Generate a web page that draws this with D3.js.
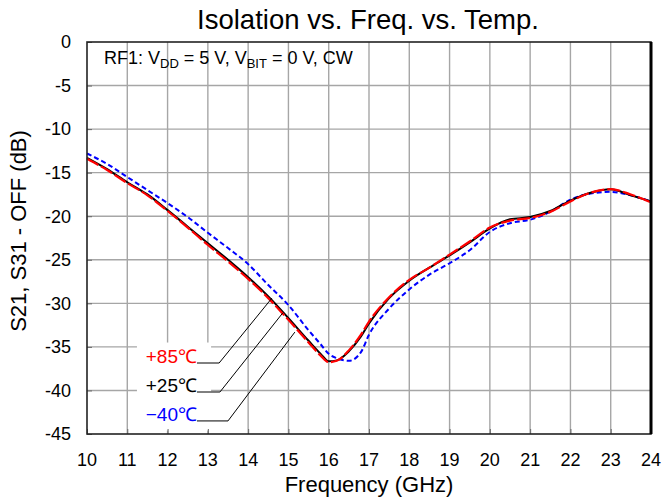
<!DOCTYPE html>
<html>
<head>
<meta charset="utf-8">
<script src="https://cdn.jsdelivr.net/npm/d3@7"></script>
<style>
body { margin: 0; background: #fff; }
text { font-family: "Liberation Sans", Arial, Helvetica, sans-serif; }
</style>
</head>
<body>
<div id="chart"></div>
<script>
var width = 664,
	height = 499,
	left = 87,
	right = 651,
	top_ = 42,
	bottom = 434;

// frequency grid (GHz)
var freq = [10, 10.5, 11, 11.5, 12, 12.5, 13, 13.5, 14, 14.5, 15, 15.5, 15.8, 16, 16.2, 16.5, 16.8, 17, 17.5, 18, 18.5, 19, 19.5, 20, 20.5, 21, 21.5, 22, 22.5, 23, 23.5, 24];

// isolation (dB) per temperature
var iso85 = [-13.4, -14.7, -16.2, -17.6, -19.4, -21.3, -23.3, -25.2, -27.2, -29.4, -31.9, -34.5, -36.0, -36.75, -36.6, -35.4, -33.6, -32.1, -29.3, -27.3, -25.9, -24.4, -22.9, -21.3, -20.5, -20.2, -19.5, -18.3, -17.3, -16.9, -17.5, -18.4];
var iso25 = [-13.3, -14.6, -16.1, -17.5, -19.3, -21.2, -23.1, -25.0, -27.0, -29.2, -31.7, -34.3, -35.8, -36.65, -36.55, -35.5, -33.8, -32.3, -29.4, -27.4, -25.9, -24.5, -23.0, -21.4, -20.35, -20.1, -19.4, -18.2, -17.3, -16.9, -17.6, -18.3];
var isoM40 = [-12.8, -14.0, -15.5, -17.0, -18.5, -20.1, -21.9, -23.65, -25.5, -27.9, -30.2, -33.1, -34.7, -35.8, -36.3, -36.6, -35.6, -33.6, -30.6, -28.4, -26.7, -25.4, -23.9, -21.8, -20.8, -20.4, -19.5, -18.1, -17.4, -17.2, -17.6, -18.3];

var xTicks = [10, 11, 12, 13, 14, 15, 16, 17, 18, 19, 20, 21, 22, 23, 24];
var yTicks = [0, -5, -10, -15, -20, -25, -30, -35, -40, -45];

// callout labels: text, colour, label end, elbow, tip (GHz, dB)
var labelText = ["+85\u2103", "+25\u2103", "\u221240\u2103"];
var labelColor = ["#ff0000", "#000000", "#0000ff"];
var labelStart = [[12.73, -36.85], [12.73, -40.18], [12.73, -43.5]];
var labelElbow = [[13.28, -36.85], [13.30, -40.18], [13.50, -43.5]];
var labelTip = [[14.59, -29.4], [14.86, -31.1], [15.16, -33.3]];

var x = d3.scaleLinear().domain([10, 24]).range([left, right]);
var y = d3.scaleLinear().domain([0, -45]).range([top_, bottom]);

var svg = d3.select("#chart").append("svg")
	.attr("width", width)
	.attr("height", height);

// grid
svg.append("g")
	.selectAll("line")
	.data(xTicks.slice(1, -1))
	.enter()
	.append("line")
	.attr("x1", function(d) { return x(d); })
	.attr("x2", function(d) { return x(d); })
	.attr("y1", top_)
	.attr("y2", bottom)
	.attr("stroke", "#a6a6a6")
	.attr("stroke-width", 1.4);

svg.append("g")
	.selectAll("line")
	.data(yTicks.slice(1, -1))
	.enter()
	.append("line")
	.attr("x1", left)
	.attr("x2", right)
	.attr("y1", function(d) { return y(d); })
	.attr("y2", function(d) { return y(d); })
	.attr("stroke", "#a6a6a6")
	.attr("stroke-width", 1.4);

// white box behind the callout labels
svg.append("rect")
	.attr("x", x(11.24))
	.attr("y", y(-34.5))
	.attr("width", x(13.08) - x(11.24))
	.attr("height", y(-44.6) - y(-34.5))
	.attr("fill", "#fff");

// inner ticks
var xAxis = d3.axisTop(x).tickValues(xTicks).tickSize(5).tickFormat("");
svg.append("g")
	.attr("transform", "translate(0," + bottom + ")")
	.call(xAxis)
	.call(function(g) { g.select(".domain").remove(); })
	.selectAll("line").attr("stroke", "#666");

var yAxis = d3.axisRight(y).tickValues(yTicks).tickSize(5).tickFormat("");
svg.append("g")
	.attr("transform", "translate(" + left + ",0)")
	.call(yAxis)
	.call(function(g) { g.select(".domain").remove(); })
	.selectAll("line").attr("stroke", "#666");

// tick labels
svg.append("g")
	.selectAll("text")
	.data(xTicks)
	.enter()
	.append("text")
	.attr("x", function(d) { return x(d); })
	.attr("y", 466)
	.attr("text-anchor", "middle")
	.attr("font-size", 18)
	.text(function(d) { return d; });

svg.append("g")
	.selectAll("text")
	.data(yTicks)
	.enter()
	.append("text")
	.attr("x", 71)
	.attr("y", function(d) { return y(d); })
	.attr("dy", "0.35em")
	.attr("text-anchor", "end")
	.attr("font-size", 18)
	.text(function(d) { return d; });

// curves
var line = d3.line()
	.x(function(d) { return x(d[0]); })
	.y(function(d) { return y(d[1]); })
	.curve(d3.curveMonotoneX);

svg.append("path")
	.datum(d3.zip(freq, isoM40))
	.attr("d", line)
	.attr("fill", "none")
	.attr("stroke", "#0000ff")
	.attr("stroke-width", 2)
	.attr("stroke-dasharray", "5,3");

svg.append("path")
	.datum(d3.zip(freq, iso25))
	.attr("d", line)
	.attr("fill", "none")
	.attr("stroke", "#000")
	.attr("stroke-width", 2);

svg.append("path")
	.datum(d3.zip(freq, iso85))
	.attr("d", line)
	.attr("fill", "none")
	.attr("stroke", "#ff0000")
	.attr("stroke-width", 2.2)
	.attr("stroke-dasharray", "13,3");

// frame
svg.append("rect")
	.attr("x", left)
	.attr("y", top_)
	.attr("width", right - left)
	.attr("height", bottom - top_)
	.attr("fill", "none")
	.attr("stroke", "#222")
	.attr("stroke-width", 1.6);

svg.append("line")
	.attr("x1", right)
	.attr("x2", right)
	.attr("y1", top_)
	.attr("y2", bottom)
	.attr("stroke", "#000")
	.attr("stroke-width", 3);

// callouts
labelText.forEach(function(t, i) {
	svg.append("polyline")
		.attr("points", [labelStart[i], labelElbow[i], labelTip[i]].map(function(p) {
			return x(p[0]) + "," + y(p[1]);
		}).join(" "))
		.attr("fill", "none")
		.attr("stroke", "#000")
		.attr("stroke-width", 1);
	svg.append("text")
		.attr("x", x(labelStart[i][0]))
		.attr("y", y(labelStart[i][1]))
		.attr("text-anchor", "end")
		.attr("font-size", 19)
		.attr("fill", labelColor[i])
		.text(t);
});

// condition note
var note = svg.append("text")
	.attr("x", 104)
	.attr("y", 64)
	.attr("font-size", 18);
note.append("tspan").text("RF1: V");
note.append("tspan").attr("font-size", 13).attr("dy", 4).text("DD");
note.append("tspan").attr("dy", -4).text(" = 5 V, V");
note.append("tspan").attr("font-size", 13).attr("dy", 4).text("BIT");
note.append("tspan").attr("dy", -4).text(" = 0 V, CW");

// titles
svg.append("text")
	.attr("x", 368)
	.attr("y", 29)
	.attr("text-anchor", "middle")
	.attr("font-size", 27.5)
	.text("Isolation vs. Freq. vs. Temp.");

svg.append("text")
	.attr("x", 369)
	.attr("y", 492)
	.attr("text-anchor", "middle")
	.attr("font-size", 22)
	.text("Frequency (GHz)");

svg.append("text")
	.attr("transform", "translate(26,231) rotate(-90)")
	.attr("text-anchor", "middle")
	.attr("font-size", 22)
	.text("S21, S31 - OFF (dB)");
</script>
</body>
</html>
